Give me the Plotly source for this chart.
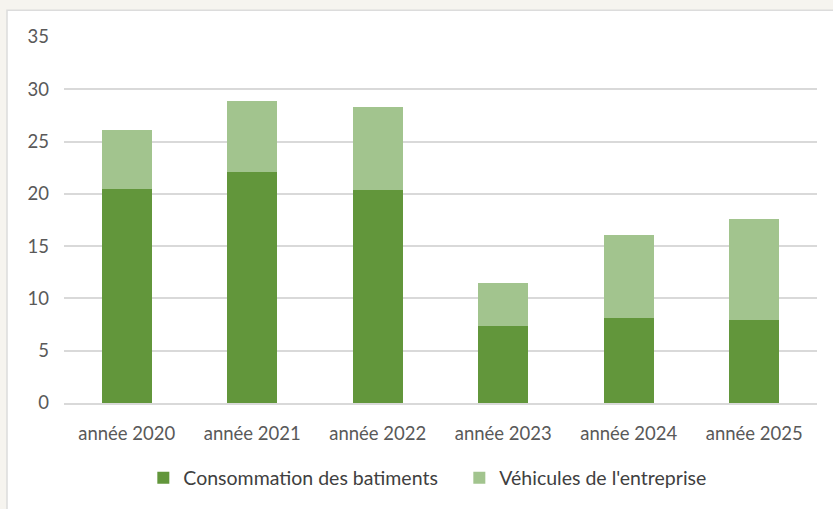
import plotly.graph_objects as go

annees = ["année 2020", "année 2021", "année 2022", "année 2023", "année 2024", "année 2025"]
batiments = [20.5, 22.1, 20.4, 7.4, 8.1, 7.9]
vehicules = [5.6, 6.8, 7.9, 4.1, 7.95, 9.7]

font_family = "Lato, Open Sans, Arial"

fig = go.Figure()
fig.add_trace(go.Bar(x=annees, y=batiments, name="Consommation des batiments",
                     marker=dict(color="#62963b", line=dict(width=0))))
fig.add_trace(go.Bar(x=annees, y=vehicules, name="Véhicules de l'entreprise",
                     marker=dict(color="#a2c48e", line=dict(width=0))))

fig.update_layout(
    barmode="stack",
    bargap=0.6,
    width=833, height=509,
    margin=dict(l=64, r=16, t=37, b=103),
    paper_bgcolor="#f6f4ef",
    plot_bgcolor="rgba(0,0,0,0)",
    font=dict(family=font_family, size=18.5, color="#595959"),
    showlegend=True,
    legend=dict(orientation="h", x=0.525, xanchor="center", y=-0.205, yanchor="middle",
                font=dict(size=19.5, color="#404040"), traceorder="normal",
                itemwidth=30, entrywidth=271, bgcolor="rgba(0,0,0,0)"),
    shapes=[dict(type="rect", xref="paper", yref="paper",
                 x0=(7 - 64) / 753, x1=1.2, y0=-0.4, y1=(406 - 10) / 369,
                 fillcolor="white", line=dict(color="#dcdcdc", width=1.5), layer="below")],
)
fig.update_yaxes(range=[0, 35], dtick=5, showgrid=True, gridcolor="#d9d9d9", gridwidth=1.5,
                 zeroline=False, showline=False, ticks="", ticklabelstandoff=14,
                 tickfont=dict(size=18.5, color="#595959"))
fig.update_xaxes(showline=True, linecolor="#d9d9d9", linewidth=1.5, ticks="",
                 ticklabelstandoff=13, tickfont=dict(size=18.5, color="#595959"))

fig.write_html("out.html", config={"displayModeBar": False},
               post_script="document.body.style.margin='0';document.body.style.background='#f6f4ef';")
